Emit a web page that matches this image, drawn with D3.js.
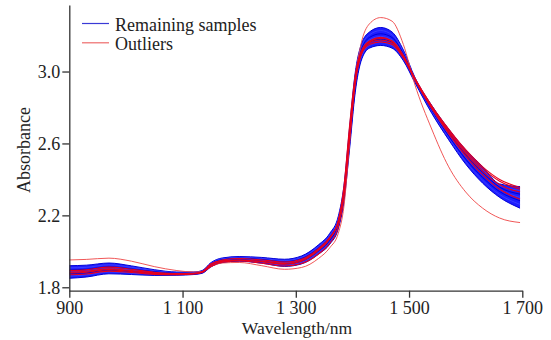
<!DOCTYPE html>
<html>
<head>
<meta charset="utf-8">
<script src="https://cdn.jsdelivr.net/npm/d3@7"></script>
<style>
  body { margin: 0; background: #fff; }
  svg { display: block; }
</style>
</head>
<body>
<div id="chart"></div>
<script>
let width = 551;
let height = 340;
let labelFont = "'Liberation Serif'";

// wavelength grid (nm)
let wavelengths = [900, 930, 970, 1010, 1050, 1090, 1120, 1135, 1150, 1170, 1200, 1240, 1280, 1310, 1340, 1360,
    1375, 1385, 1395, 1405, 1415, 1430, 1450, 1470, 1490, 1510, 1540, 1570, 1600, 1630, 1660, 1696];

// remaining samples, from upper to lower edge of the band
let blueA = [1.920, 1.923, 1.935, 1.919, 1.898, 1.885, 1.885, 1.894, 1.937, 1.963, 1.971, 1.966, 1.956, 1.974, 2.036, 2.100,
    2.195, 2.365, 2.690, 2.995, 3.145, 3.220, 3.245, 3.220, 3.120, 2.970, 2.812, 2.680, 2.565, 2.471, 2.375, 2.360];
let blueB = [1.908, 1.911, 1.925, 1.911, 1.892, 1.882, 1.883, 1.891, 1.933, 1.958, 1.966, 1.960, 1.949, 1.966, 2.027, 2.090,
    2.183, 2.349, 2.669, 2.976, 3.129, 3.204, 3.228, 3.204, 3.110, 2.965, 2.804, 2.670, 2.551, 2.455, 2.366, 2.339];
let blueC = [1.896, 1.900, 1.914, 1.902, 1.887, 1.879, 1.880, 1.888, 1.929, 1.954, 1.962, 1.955, 1.942, 1.959, 2.018, 2.079,
    2.171, 2.334, 2.648, 2.957, 3.114, 3.189, 3.210, 3.189, 3.099, 2.960, 2.797, 2.659, 2.537, 2.439, 2.357, 2.318];
let blueD = [1.885, 1.890, 1.905, 1.895, 1.882, 1.876, 1.878, 1.886, 1.925, 1.950, 1.958, 1.950, 1.936, 1.952, 2.010, 2.070,
    2.160, 2.320, 2.630, 2.940, 3.100, 3.175, 3.195, 3.175, 3.090, 2.955, 2.790, 2.650, 2.525, 2.425, 2.345, 2.300];
let blueE = [1.875, 1.880, 1.896, 1.888, 1.877, 1.873, 1.876, 1.884, 1.921, 1.946, 1.954, 1.945, 1.930, 1.945, 2.002, 2.061,
    2.150, 2.307, 2.612, 2.924, 3.087, 3.162, 3.180, 3.162, 3.081, 2.951, 2.783, 2.641, 2.513, 2.411, 2.332, 2.282];
let blueF = [1.862, 1.869, 1.886, 1.879, 1.872, 1.870, 1.873, 1.881, 1.917, 1.942, 1.950, 1.940, 1.923, 1.938, 1.993, 2.051,
    2.137, 2.291, 2.591, 2.904, 3.071, 3.146, 3.163, 3.146, 3.071, 2.945, 2.776, 2.631, 2.499, 2.395, 2.316, 2.261];
let blueG = [1.850, 1.857, 1.875, 1.871, 1.866, 1.867, 1.871, 1.878, 1.913, 1.937, 1.945, 1.934, 1.916, 1.930, 1.984, 2.040,
    2.125, 2.275, 2.570, 2.885, 3.055, 3.130, 3.145, 3.130, 3.060, 2.940, 2.768, 2.620, 2.485, 2.379, 2.300, 2.240];

// outliers
let outlier1 = [1.952, 1.955, 1.962, 1.945, 1.915, 1.893, 1.885, 1.888, 1.915, 1.935, 1.938, 1.920, 1.900, 1.910, 1.960, 2.020,
    2.100, 2.250, 2.600, 2.960, 3.150, 3.265, 3.300, 3.280, 3.150, 2.930, 2.680, 2.470, 2.330, 2.240, 2.185, 2.160];
let outlier2 = [1.880, 1.884, 1.898, 1.888, 1.876, 1.872, 1.875, 1.886, 1.930, 1.948, 1.952, 1.942, 1.928, 1.945, 2.005, 2.070,
    2.170, 2.360, 2.700, 2.980, 3.110, 3.170, 3.190, 3.170, 3.085, 2.960, 2.800, 2.665, 2.545, 2.445, 2.370, 2.330];
let outlier3 = [1.870, 1.874, 1.890, 1.882, 1.872, 1.870, 1.874, 1.884, 1.922, 1.944, 1.950, 1.944, 1.932, 1.950, 2.012, 2.075,
    2.165, 2.330, 2.660, 2.960, 3.100, 3.160, 3.175, 3.160, 3.080, 2.955, 2.795, 2.655, 2.530, 2.425, 2.345, 2.290];
let outlier4 = [1.893, 1.897, 1.912, 1.900, 1.884, 1.876, 1.877, 1.886, 1.928, 1.952, 1.960, 1.952, 1.940, 1.956, 2.015, 2.078,
    2.165, 2.330, 2.650, 2.950, 3.090, 3.150, 3.165, 3.150, 3.075, 2.960, 2.805, 2.670, 2.555, 2.460, 2.390, 2.345];
let outlier5 = [1.885, 1.889, 1.903, 1.893, 1.880, 1.875, 1.877, 1.884, 1.915, 1.940, 1.946, 1.934, 1.918, 1.932, 1.985, 2.045,
    2.135, 2.300, 2.620, 2.930, 3.090, 3.165, 3.185, 3.170, 3.090, 2.965, 2.810, 2.680, 2.565, 2.470, 2.400, 2.355];

let blueSeries = [blueA, blueB, blueC, blueD, blueE, blueF, blueG];
let redSeries = [outlier1, outlier2, outlier3, outlier4, outlier5];

let xTicks = [900, 1100, 1300, 1500, 1700];
let yTicks = [1.8, 2.2, 2.6, 3.0];
let legendItems = [{ name: 'Remaining samples', color: '#3a3ad6' }, { name: 'Outliers', color: '#ee6a6a' }];

let svg = d3.select('#chart').append('svg')
    .attr('width', width).attr('height', height);

let xScale = d3.scaleLinear().domain([900, 1700]).range([69.3, 522.3]);
let yScale = d3.scaleLinear().domain([1.781, 3.37]).range([290.7, 5]);

let line = d3.line()
    .x((d, i) => xScale(wavelengths[i]))
    .y(d => yScale(d))
    .curve(d3.curveMonotoneX);

// solid band between outer remaining samples
let band = d3.area()
    .x((d, i) => xScale(wavelengths[i]))
    .y0((d, i) => yScale(blueG[i]))
    .y1((d, i) => yScale(blueA[i]))
    .curve(d3.curveMonotoneX);

svg.append('path')
    .datum(blueA)
    .attr('d', band)
    .attr('fill', '#1e1eff');

svg.selectAll('.blue')
    .data(blueSeries)
    .enter()
    .append('path')
    .attr('class', 'blue')
    .attr('d', line)
    .attr('fill', 'none')
    .attr('stroke', (d, i) => i % 2 ? '#3c3cff' : '#0000d8')
    .attr('stroke-width', 1);

svg.selectAll('.red')
    .data(redSeries)
    .enter()
    .append('path')
    .attr('class', 'red')
    .attr('d', line)
    .attr('fill', 'none')
    .attr('stroke', (d, i) => i == 0 ? '#ee4444' : '#e8001c')
    .attr('stroke-width', (d, i) => i == 0 ? 0.9 : 1.1);

let xAxis = d3.axisBottom(xScale)
    .tickValues(xTicks)
    .tickSize(7)
    .tickSizeOuter(0)
    .tickPadding(4)
    .tickFormat(d => d3.format(',')(d).replace(',', ' '));
let yAxis = d3.axisLeft(yScale)
    .tickValues(yTicks)
    .tickSize(7)
    .tickSizeOuter(0)
    .tickPadding(2)
    .tickFormat(d3.format('.1f'));

let gx = svg.append('g')
    .attr('transform', 'translate(0,' + 290.7 + ')')
    .call(xAxis);
let gy = svg.append('g')
    .attr('transform', 'translate(' + 69.3 + ',0)')
    .call(yAxis);
[gx, gy].forEach(g => {
    g.attr('font-family', null).attr('font-size', null);
    g.selectAll('path, line').attr('stroke', '#333').attr('stroke-width', 1.3);
    g.selectAll('text').style('font-family', labelFont).style('font-size', '18px').attr('fill', '#222');
});

svg.append('text')
    .attr('x', 297).attr('y', 334)
    .attr('text-anchor', 'middle')
    .style('font-family', labelFont).style('font-size', '17.5px').attr('fill', '#222')
    .text('Wavelength/nm');
svg.append('text')
    .attr('transform', 'translate(30,150) rotate(-90)')
    .attr('text-anchor', 'middle')
    .style('font-family', labelFont).style('font-size', '18px').attr('fill', '#222')
    .text('Absorbance');

let legend = svg.selectAll('.legend')
    .data(legendItems)
    .enter()
    .append('g')
    .attr('class', 'legend')
    .attr('transform', (d, i) => 'translate(82,' + (23.5 + i * 19.3) + ')');
legend.append('line')
    .attr('x1', 0).attr('x2', 27)
    .attr('stroke', d => d.color)
    .attr('stroke-width', 1.2);
legend.append('text')
    .attr('x', 33).attr('y', 7.5)
    .style('font-family', labelFont).style('font-size', '18px').attr('fill', '#222')
    .text(d => d.name);
</script>
</body>
</html>
